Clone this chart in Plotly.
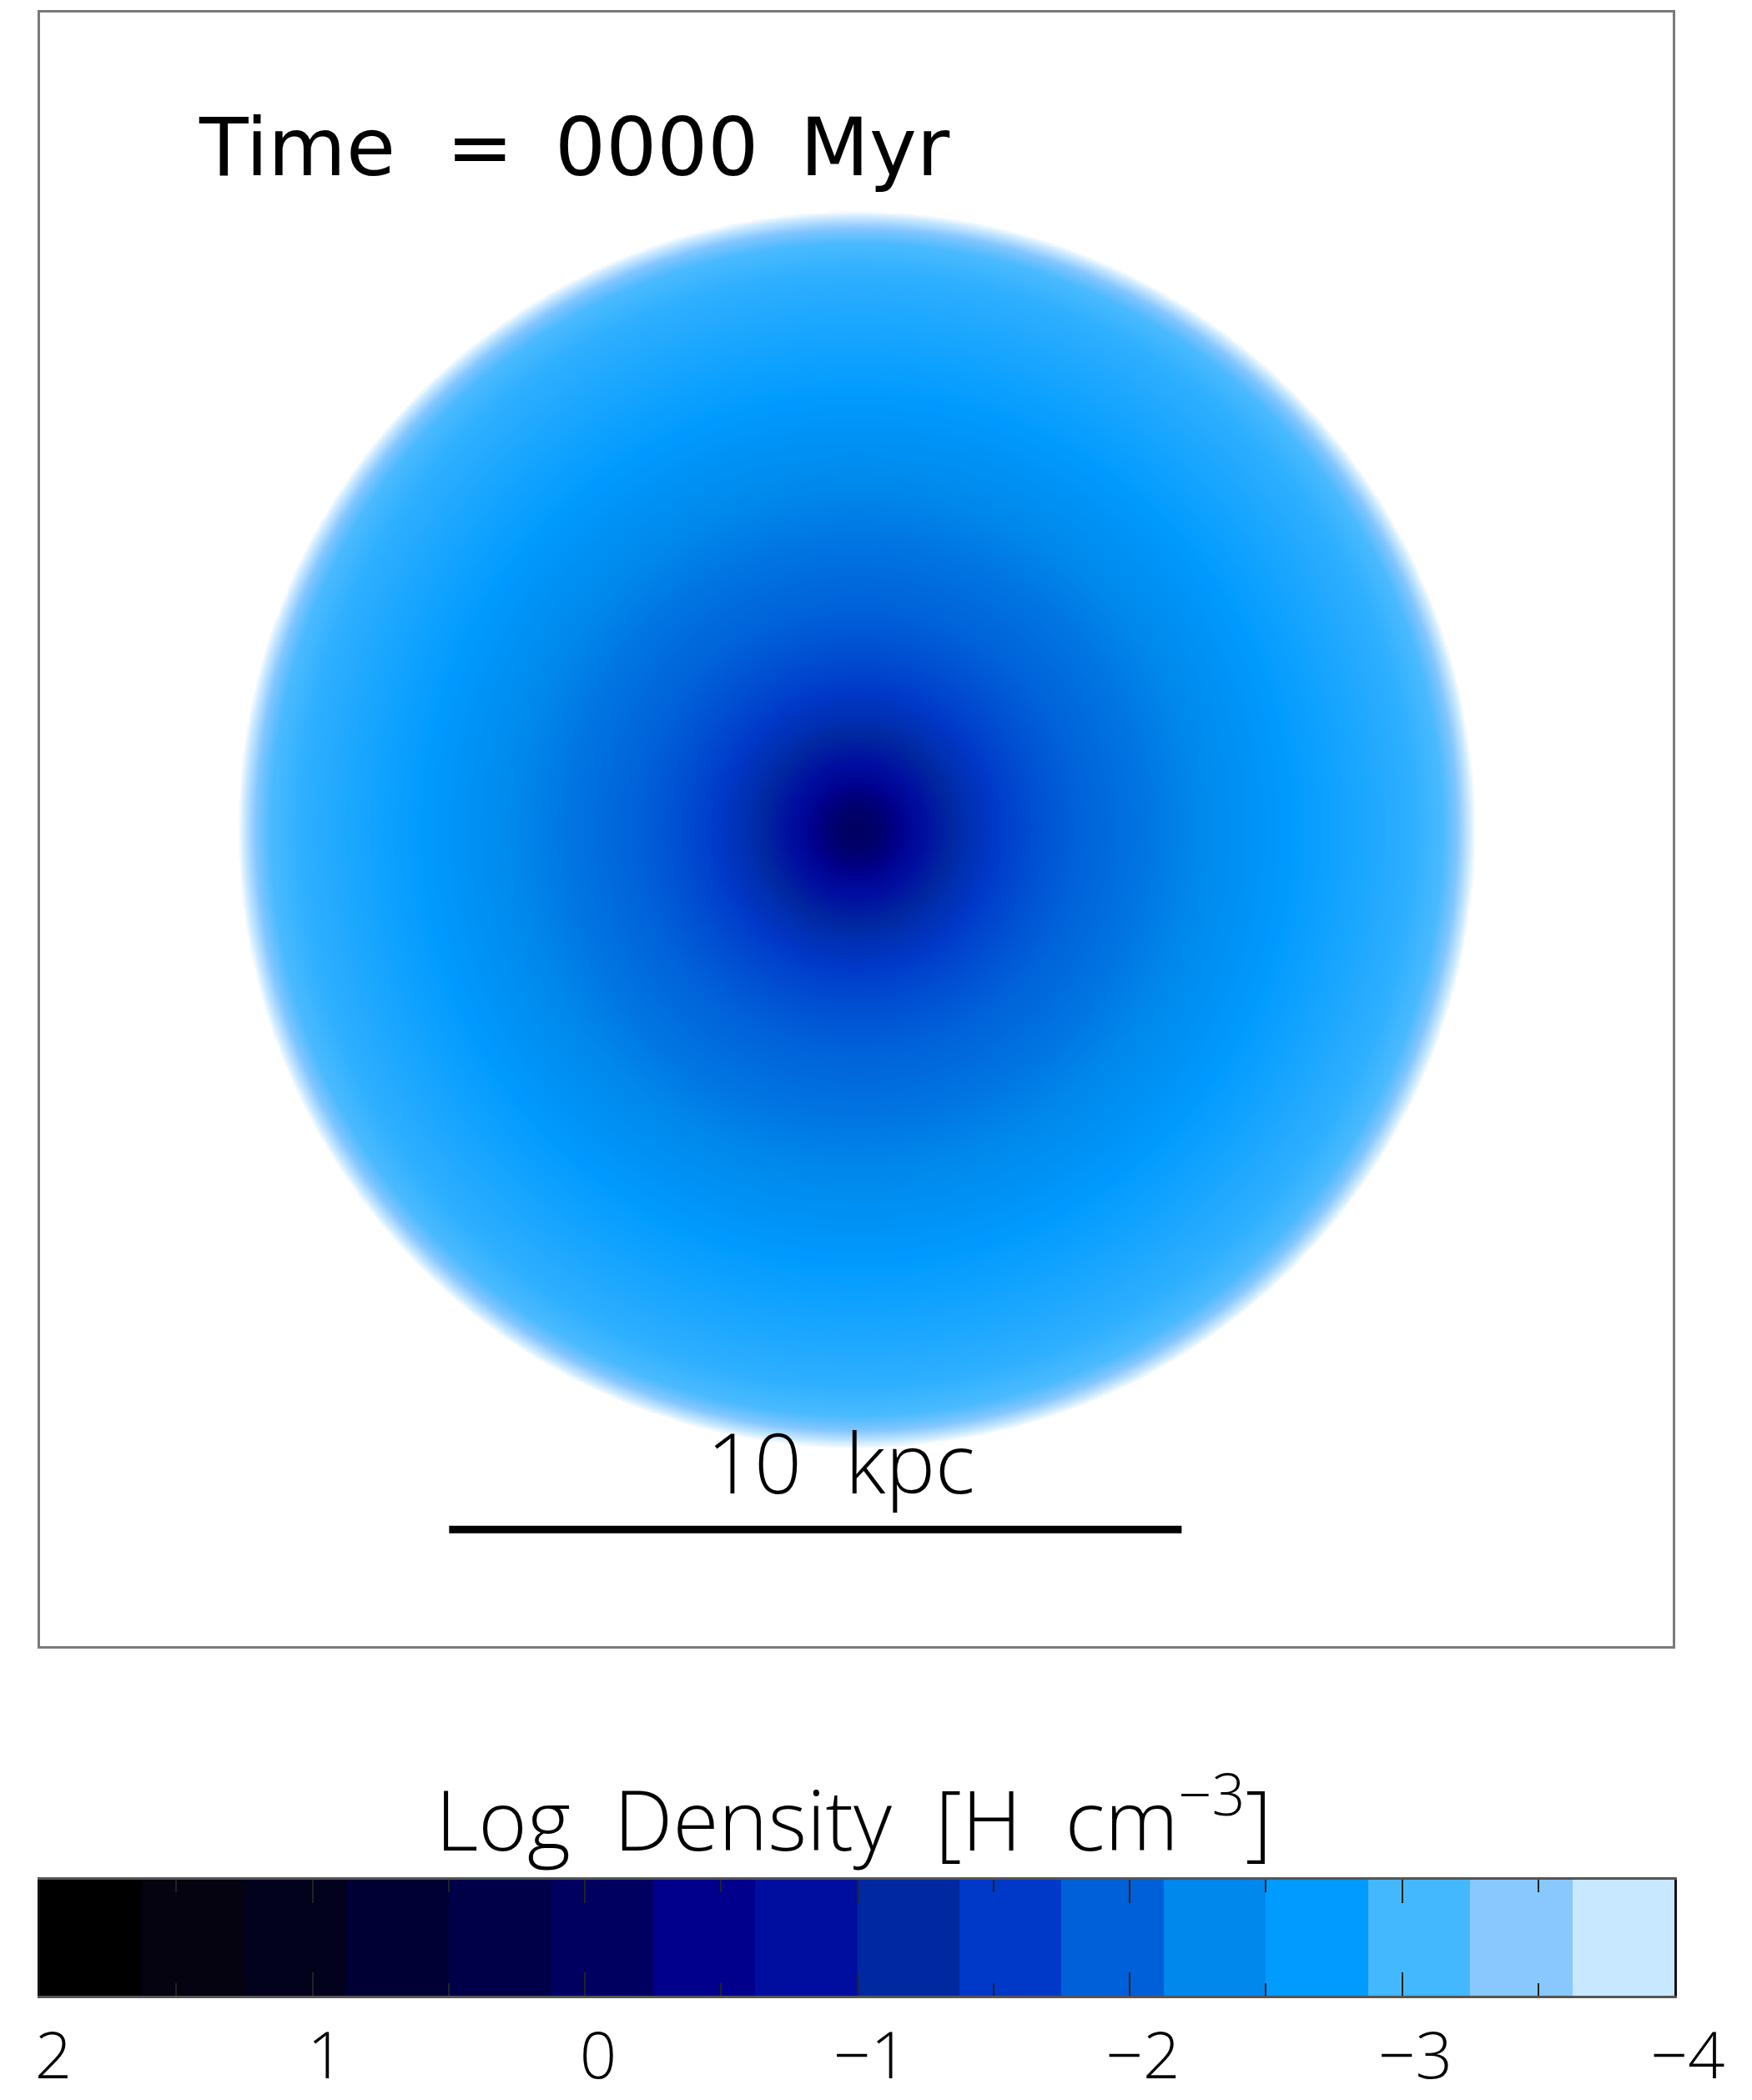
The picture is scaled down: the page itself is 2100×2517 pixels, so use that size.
import numpy as np
import plotly.graph_objects as go

W, H = 2100, 2517

# Azimuthally averaged gas density of the initial disc (kpc, log10 H cm^-3)
radius_kpc = [0.0, 0.25, 0.5, 0.75, 1.0, 1.25, 1.5, 2.0, 2.5, 3.0, 4.0, 5.0,
              6.0, 7.0, 7.6, 8.0, 8.2, 8.35, 8.45]
log_density = [-0.05, -0.15, -0.35, -0.65, -0.9, -1.15, -1.35, -1.62, -1.8,
               -1.95, -2.15, -2.4, -2.7, -2.85, -2.95, -3.1, -3.4, -3.8, -4.0]

# 16-level colour table spanning log density 2 .. -4
level_colors = ["#000000", "#050310", "#02021c", "#000035", "#000048", "#000060",
                "#00008c", "#000ea0", "#0028a0", "#0038c8", "#0060d8", "#0088ec",
                "#009bff", "#44b8ff", "#88c8ff", "#c8e8ff"]
cbar_ticks = [2, 1, 0, -1, -2, -3, -4]
cbar_ticktext = ["2", "1", "0", "\u22121", "\u22122", "\u22123", "\u22124"]

time_label = "Time\u00a0\u00a0=\u00a0\u20090000\u00a0\u2009Myr"
scale_label = "10\u00a0\u00a0kpc"
cbar_title = "Log\u00a0\u00a0Density\u00a0\u00a0[H\u00a0\u00a0cm<sup>\u22123</sup>]"
scale_bar_kpc = 10

ZMAX, ZMIN = 2.0, -4.0
n_levels = len(level_colors)
step = (ZMAX - ZMIN) / n_levels
level_edges = [ZMAX - i * step for i in range(n_levels + 1)]
level_centers = [ZMAX - (i + 0.5) * step for i in range(n_levels)]

# continuous colour scale through the level centres, fading to white at the floor
colorscale = [[0.0, "#ffffff"]]
for v, c in sorted(zip(level_centers, level_colors)):
    colorscale.append([(v - ZMIN) / (ZMAX - ZMIN), c])
colorscale.append([1.0, "#000000"])

# face-on density map built from the radial profile
half = 8.7
grid = np.linspace(-half, half, 601)
X, Y = np.meshgrid(grid, grid)
R = np.hypot(X, Y)
Z = np.interp(R, radius_kpc, log_density, right=-4.5)

px_per_kpc = 87.8
frame_w, frame_h = 1957, 1958
xr = frame_w / 2 / px_per_kpc
yr = frame_h / 2 / px_per_kpc

fig = go.Figure()
fig.add_trace(go.Heatmap(
    x=grid, y=grid, z=Z, zmin=ZMIN, zmax=ZMAX, colorscale=colorscale,
    zsmooth="best", showscale=False, hoverinfo="skip", xaxis="x", yaxis="y"))

# scale bar
bar_x0, bar_y = -5.56, -9.56
fig.add_trace(go.Scatter(
    x=[bar_x0, bar_x0 + scale_bar_kpc], y=[bar_y, bar_y], mode="lines",
    line=dict(color="black", width=9), hoverinfo="skip", showlegend=False,
    xaxis="x", yaxis="y"))

# stepped colour bar
fig.add_trace(go.Heatmap(
    x=level_edges, y=[0, 1], z=[level_centers], zmin=ZMIN, zmax=ZMAX,
    colorscale=colorscale, showscale=False, hoverinfo="skip",
    xaxis="x2", yaxis="y2"))

thin = dict(family="Open Sans, Roboto, DejaVu Sans", weight=300, color="black")

fig.update_layout(
    template="none",
    width=W, height=H, margin=dict(l=0, r=0, t=0, b=0, autoexpand=False),
    paper_bgcolor="white", plot_bgcolor="white", showlegend=False,
    xaxis=dict(domain=[48 / W, 2005 / W], range=[-xr, xr], showticklabels=False,
               ticks="", showgrid=False, zeroline=False, showline=True,
               linecolor="#7a7a7a", linewidth=3, mirror=True, anchor="y",
               automargin=False),
    yaxis=dict(domain=[1 - 1973 / H, 1 - 15 / H], range=[-yr, yr], showticklabels=False,
               ticks="", showgrid=False, zeroline=False, showline=True,
               linecolor="#7a7a7a", linewidth=3, mirror=True, anchor="x",
               automargin=False),
    xaxis2=dict(domain=[48 / W, 2007 / W], range=[ZMAX, ZMIN], anchor="y2",
                tickvals=cbar_ticks, ticktext=cbar_ticktext, ticks="inside",
                ticklen=28, tickwidth=2, tickcolor="#222222", mirror="allticks",
                showline=True, linecolor="#555555", linewidth=3,
                showgrid=False, zeroline=False, automargin=False,
                minor=dict(dtick=0.5, ticks="inside", ticklen=15, tickwidth=2,
                           tickcolor="#222222", showgrid=False),
                tickfont=dict(size=78, **thin), ticklabelstandoff=2,
                ticklabelshift=-16),
    yaxis2=dict(domain=[1 - 2392 / H, 1 - 2253 / H], range=[0, 1], anchor="x2",
                showticklabels=False, ticks="", showgrid=False, zeroline=False,
                showline=True, linecolor="#111111", linewidth=3, mirror=True,
                automargin=False),
    annotations=[
        dict(x=-3.85, y=9.30, xref="x", yref="y", text=time_label, showarrow=False,
             font=dict(family="DejaVu Sans", size=96, color="black"),
             xanchor="center", yanchor="middle"),
        dict(x=-0.21, y=-8.62, xref="x", yref="y", text=scale_label, showarrow=False,
             font=dict(size=100, **thin), xanchor="center", yanchor="middle"),
        dict(x=1023 / W, y=1 - 2174 / H, xref="paper", yref="paper", text=cbar_title,
             showarrow=False, font=dict(size=100, **thin),
             xanchor="center", yanchor="middle"),
    ],
)

fig.write_html("out.html")
